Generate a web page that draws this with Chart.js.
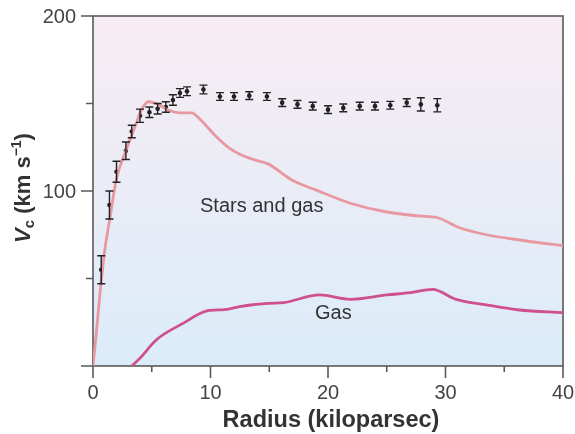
<!DOCTYPE html>
<html>
<head>
<meta charset="utf-8">
<script src="https://cdn.jsdelivr.net/npm/chart.js@4.4.0/dist/chart.umd.min.js"></script>
<style>
html,body{margin:0;padding:0;background:#fff;}
#wrap{width:575px;height:434px;}
</style>
</head>
<body>
<div id="wrap"><canvas id="c" width="575" height="434"></canvas></div>
<script>
// Observed rotation curve (kpc, km/s, error)
const obsR = [0.7, 1.4, 2.0, 2.8, 3.3, 4.0, 4.8, 5.5, 6.2, 6.8, 7.4, 8.0, 9.4, 10.8, 12.0, 13.3, 14.8, 16.1, 17.4, 18.7, 20.0, 21.3, 22.7, 24.0, 25.3, 26.7, 27.9, 29.3];
const obsV = [55, 92, 111, 123, 134, 143, 145, 147, 148, 152, 156, 157, 158, 154, 154, 154.5, 154, 150.5, 149.5, 148.5, 146.5, 147.5, 148.5, 148.5, 149, 150.5, 149.5, 149];
const obsErr = [8, 8, 6, 5, 3.6, 3.8, 3, 3, 3, 3, 2.5, 2.5, 2.5, 2.2, 2.2, 2.2, 2.2, 2.2, 2.2, 2.2, 2.2, 2.2, 2.2, 2.2, 2.2, 2.2, 3.8, 3.8];

// Model: stars and gas
const starsR = [0, 0.3, 0.6, 1.0, 1.4, 2.0, 2.8, 3.7, 4.1, 4.7, 5.4, 6.5, 7.4, 8.4, 9.1, 10.5, 11.6, 12.5, 13.9, 14.9, 17.0, 19.0, 21.9, 25.0, 28.6, 29.2, 31.2, 33.5, 36.3, 40];
const starsV = [0, 20, 42, 66, 83, 107, 123, 139, 146, 151, 150, 146, 144.7, 144.7, 141, 131, 124.5, 121, 117.5, 115.5, 106, 100.5, 93, 88, 85.3, 85, 79, 75, 72, 68.7];

// Model: gas only
const gasR = [3.3, 4.0, 5.4, 7.7, 9.7, 11.2, 12.5, 13.6, 15.0, 16.2, 19.3, 21.9, 25.0, 27.0, 28.9, 30.9, 33.5, 36.3, 40];
const gasV = [0, 4.5, 15, 24.5, 31.5, 32.2, 33.9, 35, 35.8, 36.2, 40.6, 38.1, 40.6, 41.9, 43.8, 38.1, 34.9, 32, 30.5];

const xMajor = [0, 10, 20, 30, 40];
const xMinor = [5, 15, 25, 35];
const yMajor = [0, 100, 200];
const yMinor = [50, 150];
const yLabels = [100, 200];
const xTitle = 'Radius (kiloparsec)';

const FONT = '"Liberation Sans", Arial, sans-serif';
const toXY = (xs, ys) => xs.map((x, i) => ({x: x, y: ys[i]}));

const bgPlugin = {
  id: 'bg',
  beforeDraw(chart) {
    const {ctx, chartArea: a} = chart;
    ctx.save();
    ctx.fillStyle = '#ffffff';
    ctx.fillRect(0, 0, chart.width, chart.height);
    const g = ctx.createLinearGradient(0, a.top, 0, a.bottom);
    g.addColorStop(0, 'rgb(248,236,243)');
    g.addColorStop(1, 'rgb(219,236,249)');
    ctx.fillStyle = g;
    ctx.fillRect(a.left, a.top, a.right - a.left, a.bottom - a.top);
    ctx.restore();
  },
  beforeDatasetsDraw(chart) {
    const {ctx, chartArea: a, scales} = chart;
    const xs = scales.x, ys = scales.y;
    ctx.save();
    ctx.strokeStyle = '#5a5a5a';
    ctx.lineWidth = 1.6;
    ctx.strokeRect(a.left, a.top, a.right - a.left, a.bottom - a.top);
    ctx.beginPath();
    yMajor.forEach(v => { const p = ys.getPixelForValue(v); ctx.moveTo(a.left - 12, p); ctx.lineTo(a.left, p); });
    yMinor.forEach(v => { const p = ys.getPixelForValue(v); ctx.moveTo(a.left - 7, p); ctx.lineTo(a.left, p); });
    xMajor.forEach(v => { const p = xs.getPixelForValue(v); ctx.moveTo(p, a.bottom); ctx.lineTo(p, a.bottom + 12); });
    xMinor.forEach(v => { const p = xs.getPixelForValue(v); ctx.moveTo(p, a.bottom); ctx.lineTo(p, a.bottom + 6); });
    ctx.stroke();
    // tick labels
    ctx.fillStyle = '#444';
    ctx.font = '20px ' + FONT;
    ctx.textBaseline = 'alphabetic';
    ctx.textAlign = 'center';
    xMajor.forEach(v => ctx.fillText(String(v), xs.getPixelForValue(v), a.bottom + 33));
    ctx.textAlign = 'right';
    yLabels.forEach(v => ctx.fillText(String(v), a.left - 17, ys.getPixelForValue(v) + 7));
    // x title
    ctx.fillStyle = '#333';
    ctx.font = 'bold 23.5px ' + FONT;
    ctx.textAlign = 'center';
    ctx.fillText(xTitle, (a.left + a.right) / 2 + 3, a.bottom + 61);
    ctx.restore();
  },
  afterDatasetsDraw(chart) {
    const {ctx, scales} = chart;
    const xs = scales.x, ys = scales.y;
    ctx.save();
    ctx.strokeStyle = '#222';
    ctx.lineWidth = 1.4;
    ctx.beginPath();
    obsR.forEach((r, i) => {
      const px = xs.getPixelForValue(r);
      const top = ys.getPixelForValue(obsV[i] + obsErr[i]);
      const bot = ys.getPixelForValue(obsV[i] - obsErr[i]);
      ctx.moveTo(px, top); ctx.lineTo(px, bot);
      ctx.moveTo(px - 4, top); ctx.lineTo(px + 4, top);
      ctx.moveTo(px - 4, bot); ctx.lineTo(px + 4, bot);
    });
    ctx.stroke();
    // text labels
    ctx.fillStyle = '#333';
    ctx.font = '20px ' + FONT;
    ctx.textBaseline = 'alphabetic';
    ctx.textAlign = 'left';
    ctx.fillText('Stars and gas', 200, 212);
    ctx.fillText('Gas', 315, 319);
    // y title with subscript/superscript
    ctx.save();
    ctx.translate(30, 188);
    ctx.rotate(-Math.PI / 2);
    const parts = [
      {t: 'V', f: 'italic bold 22px ' + FONT, dy: 0},
      {t: 'c', f: 'bold 15px ' + FONT, dy: 4},
      {t: ' (km s', f: 'bold 22px ' + FONT, dy: 0},
      {t: '\u22121', f: 'bold 14px ' + FONT, dy: -9},
      {t: ')', f: 'bold 22px ' + FONT, dy: 0}
    ];
    let total = 0;
    parts.forEach(p => { ctx.font = p.f; total += ctx.measureText(p.t).width; });
    let x0 = -total / 2;
    ctx.fillStyle = '#333';
    parts.forEach(p => { ctx.font = p.f; ctx.fillText(p.t, x0, p.dy); x0 += ctx.measureText(p.t).width; });
    ctx.restore();
    ctx.restore();
  }
};

new Chart(document.getElementById('c'), {
  type: 'scatter',
  data: {
    datasets: [
      {
        type: 'line',
        label: 'Stars and gas',
        data: toXY(starsR, starsV),
        borderColor: 'rgb(232,152,160)',
        borderWidth: 2.8,
        pointRadius: 0,
        cubicInterpolationMode: 'monotone',
        fill: false
      },
      {
        type: 'line',
        label: 'Gas',
        data: toXY(gasR, gasV),
        borderColor: 'rgb(206,80,142)',
        borderWidth: 2.8,
        pointRadius: 0,
        cubicInterpolationMode: 'monotone',
        fill: false
      },
      {
        label: 'Observed',
        data: toXY(obsR, obsV),
        backgroundColor: '#222',
        borderColor: '#222',
        pointRadius: 2.3,
        borderWidth: 0
      }
    ]
  },
  options: {
    responsive: false,
    animation: false,
    layout: {padding: {top: 16, right: 12, left: 0, bottom: 0}},
    plugins: {legend: {display: false}, tooltip: {enabled: false}},
    scales: {
      x: {
        type: 'linear',
        min: 0, max: 40,
        grid: {display: false},
        border: {display: false},
        ticks: {display: false},
        afterFit(s) { s.height = 68; }
      },
      y: {
        type: 'linear',
        min: 0, max: 200,
        grid: {display: false},
        border: {display: false},
        ticks: {display: false},
        afterFit(s) { s.width = 93; }
      }
    }
  },
  plugins: [bgPlugin]
});
</script>
</body>
</html>
